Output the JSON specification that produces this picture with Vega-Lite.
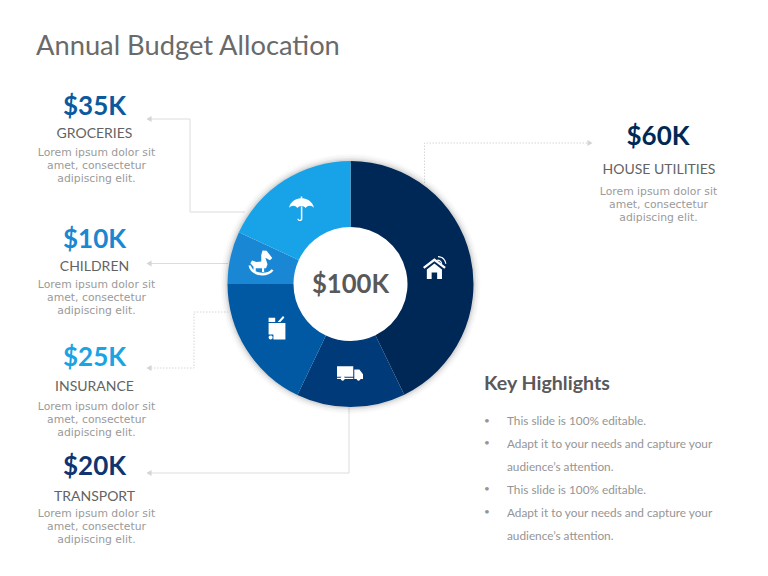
{
"$schema":"https://vega.github.io/schema/vega-lite/v6.json",
"width":768,"height":576,"padding":0,"autosize":{"type":"none"},"background":"#ffffff",
"config":{"view":{"stroke":null}},
"title":{"text":"Annual Budget Allocation","anchor":"start","frame":"group","dx":36,"dy":64,"font":"Lato","fontSize":27.3,"fontWeight":"normal","color":"#6a6a6a"},
"datasets":{
"center":[{"label":"$100K","slideX":350.5,"slideY":285}],
"ring":[{"slideX":350.5,"slideY":284}],
"slices":[
{"category":"HOUSE UTILITIES","rank":1,"share":42.8,"slideX":350.5,"slideY":284},
{"category":"TRANSPORT","rank":2,"share":14.3,"slideX":350.5,"slideY":284},
{"category":"INSURANCE","rank":3,"share":17.9,"slideX":350.5,"slideY":284},
{"category":"CHILDREN","rank":4,"share":6.9,"slideX":350.5,"slideY":284},
{"category":"GROCERIES","rank":5,"share":18.1,"slideX":350.5,"slideY":284}],
"amounts":[
{"amount":"$35K","slideX":94.5,"slideY":107},
{"amount":"$10K","slideX":94.5,"slideY":240},
{"amount":"$25K","slideX":94.5,"slideY":358},
{"amount":"$20K","slideX":94.5,"slideY":467},
{"amount":"$60K","slideX":658,"slideY":137}],
"names":[
{"name":"GROCERIES","slideX":94.5,"slideY":133.5},
{"name":"CHILDREN","slideX":94.5,"slideY":266.5},
{"name":"INSURANCE","slideX":94.5,"slideY":386.5},
{"name":"TRANSPORT","slideX":94.5,"slideY":496.5},
{"name":"HOUSE UTILITIES","slideX":659,"slideY":169.5}],
"blurbs":[
{"blurb":"Lorem ipsum dolor sit\namet, consectetur\nadipiscing elit.","slideX":96.5,"slideY":152.5},
{"blurb":"Lorem ipsum dolor sit\namet, consectetur\nadipiscing elit.","slideX":96.5,"slideY":284.5},
{"blurb":"Lorem ipsum dolor sit\namet, consectetur\nadipiscing elit.","slideX":96.5,"slideY":406.5},
{"blurb":"Lorem ipsum dolor sit\namet, consectetur\nadipiscing elit.","slideX":96.5,"slideY":513.5},
{"blurb":"Lorem ipsum dolor sit\namet, consectetur\nadipiscing elit.","slideX":658.5,"slideY":191.5}],
"leaders":[
{"leader":"GROCERIES","step":1,"slideX":148,"slideY":119},{"leader":"GROCERIES","step":2,"slideX":190,"slideY":119},{"leader":"GROCERIES","step":3,"slideX":190,"slideY":212},{"leader":"GROCERIES","step":4,"slideX":245,"slideY":212},
{"leader":"CHILDREN","step":1,"slideX":148,"slideY":263.5},{"leader":"CHILDREN","step":2,"slideX":228,"slideY":263.5},
{"leader":"INSURANCE","step":1,"slideX":148,"slideY":368},{"leader":"INSURANCE","step":2,"slideX":194,"slideY":368},{"leader":"INSURANCE","step":3,"slideX":194,"slideY":312},{"leader":"INSURANCE","step":4,"slideX":228,"slideY":312},
{"leader":"TRANSPORT","step":1,"slideX":148,"slideY":473},{"leader":"TRANSPORT","step":2,"slideX":349,"slideY":473},{"leader":"TRANSPORT","step":3,"slideX":349,"slideY":407},
{"leader":"HOUSE UTILITIES","step":1,"slideX":424.5,"slideY":183},{"leader":"HOUSE UTILITIES","step":2,"slideX":424.5,"slideY":143},{"leader":"HOUSE UTILITIES","step":3,"slideX":590,"slideY":143}],
"arrows":[
{"direction":"left","slideX":149,"slideY":119},{"direction":"left","slideX":149,"slideY":263.5},{"direction":"left","slideX":149,"slideY":368},{"direction":"left","slideX":149,"slideY":473},{"direction":"right","slideX":590,"slideY":143}],
"icons":[
{"icon":"house","slideX":435,"slideY":267},
{"icon":"truck","slideX":350,"slideY":373.5},
{"icon":"bag","slideX":277,"slideY":328},
{"icon":"horse","slideX":261,"slideY":263},
{"icon":"umbrella","slideX":301.5,"slideY":209}],
"highlights":[
{"line":"This slide is 100% editable.","slideX":507,"slideY":421},
{"line":"Adapt it to your needs and capture your","slideX":507,"slideY":443.5},
{"line":"audience’s attention.","slideX":507,"slideY":466.5},
{"line":"This slide is 100% editable.","slideX":507,"slideY":489.5},
{"line":"Adapt it to your needs and capture your","slideX":507,"slideY":512.5},
{"line":"audience’s attention.","slideX":507,"slideY":536}],
"bullets":[
{"bullet":"•","slideX":484,"slideY":420.5},{"bullet":"•","slideX":484,"slideY":442.5},{"bullet":"•","slideX":484,"slideY":489},{"bullet":"•","slideX":484,"slideY":512}],
"heading":[{"heading":"Key Highlights","slideX":484,"slideY":383.5}]
},
"encoding":{
"x":{"field":"slideX","type":"quantitative","axis":null,"scale":{"domain":[0,768],"nice":false,"zero":false}},
"y":{"field":"slideY","type":"quantitative","axis":null,"scale":{"domain":[0,576],"nice":false,"zero":false,"reverse":true}}
},
"layer":[
{"data":{"name":"leaders"},"transform":[{"filter":"datum.leader!='HOUSE UTILITIES' && datum.leader!='INSURANCE'"}],"mark":{"type":"line","color":"#dcdcdc","strokeWidth":1},"encoding":{"detail":{"field":"leader"},"order":{"field":"step","type":"quantitative"}}},
{"data":{"name":"leaders"},"transform":[{"filter":"datum.leader=='HOUSE UTILITIES' || datum.leader=='INSURANCE'"}],"mark":{"type":"line","color":"#d6d6d6","strokeWidth":1,"strokeDash":[1.5,1.5]},"encoding":{"detail":{"field":"leader"},"order":{"field":"step","type":"quantitative"}}},
{"data":{"name":"arrows"},"mark":{"type":"point","filled":true,"color":"#d4d4d4","size":35,"opacity":1},"encoding":{"shape":{"field":"direction","type":"nominal","legend":null,"scale":{"domain":["left","right"],"range":["triangle-left","triangle-right"]}}}},
{"data":{"name":"ring"},"mark":{"type":"arc","radius":130,"radius2":120,"color":"#000000","opacity":0.02}},
{"data":{"name":"ring"},"mark":{"type":"arc","radius":128,"radius2":120,"color":"#000000","opacity":0.03}},
{"data":{"name":"ring"},"mark":{"type":"arc","radius":126,"radius2":120,"color":"#000000","opacity":0.05}},
{"data":{"name":"ring"},"mark":{"type":"arc","radius":124.5,"radius2":120,"color":"#000000","opacity":0.06}},
{"data":{"name":"slices"},"mark":{"type":"arc","radius":123,"radius2":57},"encoding":{
"theta":{"field":"share","type":"quantitative","stack":true,"scale":{"domain":[0,100]}},
"order":{"field":"rank","type":"quantitative"},
"color":{"field":"category","type":"nominal","legend":null,"scale":{"domain":["HOUSE UTILITIES","TRANSPORT","INSURANCE","CHILDREN","GROCERIES","$60K","$20K","$25K","$10K","$35K"],"range":["#002856","#003a78","#0059a2","#1a87d5","#18a3e8","#002856","#0f3570","#1ba3e3","#1a87d3","#0b5a9e"]}}}},
{"data":{"name":"icons"},"transform":[{"filter":"datum.icon=='house'"}],"mark":{"type":"point","filled":true,"color":"#ffffff","opacity":1,"size":576,"shape":"M-1,0 L-0.05,-0.72 L0.9,0 L0.78,0.14 L-0.05,-0.48 L-0.88,0.14 Z M-0.68,0.2 L-0.05,-0.3 L0.58,0.2 L0.58,1 L0.18,1 L0.18,0.45 L-0.28,0.45 L-0.28,1 L-0.68,1 Z M0.2,-0.62 C0.42,-0.62 0.58,-0.48 0.6,-0.28 L0.5,-0.28 C0.48,-0.44 0.36,-0.52 0.2,-0.52 Z M0.25,-0.92 C0.65,-0.92 0.92,-0.62 0.95,-0.28 L0.85,-0.28 C0.82,-0.58 0.58,-0.82 0.25,-0.82 Z"}},
{"data":{"name":"icons"},"transform":[{"filter":"datum.icon=='truck'"}],"mark":{"type":"point","filled":true,"color":"#ffffff","opacity":1,"size":676,"shape":"M-1,-0.55 L0.25,-0.55 L0.25,0.25 L-1,0.25 Z M0.33,-0.3 L0.72,-0.3 L1,0.05 L1,0.42 L0.33,0.42 Z M-1,0.32 L0.25,0.32 L0.25,0.42 L-1,0.42 Z M-0.72,0.35 C-0.72,0.18 -0.4,0.18 -0.4,0.35 C-0.4,0.62 -0.72,0.62 -0.72,0.35 Z M0.5,0.35 C0.5,0.18 0.82,0.18 0.82,0.35 C0.82,0.62 0.5,0.62 0.5,0.35 Z"}},
{"data":{"name":"icons"},"transform":[{"filter":"datum.icon=='bag'"}],"mark":{"type":"point","filled":true,"color":"#ffffff","opacity":1,"size":576,"shape":"M-0.7,-0.42 L0.7,-0.42 L0.7,0.95 L-0.3,0.95 L-0.3,0.55 L-0.7,0.55 Z M-0.7,0.8 C-0.7,0.58 -0.36,0.58 -0.36,0.8 C-0.36,1.02 -0.7,1.02 -0.7,0.8 Z M-0.7,-0.85 L-0.15,-0.85 L-0.15,-0.5 L-0.7,-0.5 Z M0.05,-0.5 L0.5,-1 L0.62,-0.88 L0.28,-0.5 Z"}},
{"data":{"name":"icons"},"transform":[{"filter":"datum.icon=='horse'"}],"mark":{"type":"point","filled":true,"color":"#ffffff","opacity":1,"size":625,"shape":"M0.12,-1 L0.45,-0.98 L0.9,-0.4 L0.72,-0.22 L0.35,-0.42 L0.52,0.1 L0.4,0.42 L0.25,0.42 L0.25,0.72 L0.08,0.72 L0.08,0.42 L-0.42,0.42 L-0.42,0.68 L-0.6,0.68 L-0.6,0.3 L-0.85,0.02 L-0.72,-0.2 L-0.35,-0.08 L0.02,-0.12 L0.02,-0.65 Z M-1,0.2 L-0.82,0.2 C-0.7,0.55 -0.35,0.78 0.12,0.78 C0.45,0.78 0.7,0.7 0.85,0.5 L1,0.6 C0.8,0.88 0.45,1 0.12,1 C-0.45,1 -0.9,0.7 -1,0.2 Z"}},
{"data":{"name":"icons"},"transform":[{"filter":"datum.icon=='umbrella'"}],"mark":{"type":"point","filled":true,"color":"#ffffff","opacity":1,"size":625,"shape":"M-1,-0.1 C-0.9,-0.6 -0.45,-0.85 -0.06,-0.87 L-0.06,-1 L0.06,-1 L0.06,-0.87 C0.45,-0.85 0.9,-0.6 1,-0.1 C0.8,-0.32 0.5,-0.32 0.33,-0.08 C0.2,-0.3 -0.2,-0.3 -0.33,-0.08 C-0.5,-0.32 -0.8,-0.32 -1,-0.1 Z M-0.05,-0.2 L0.07,-0.2 L0.07,0.8 C0.07,1.02 -0.33,1.02 -0.33,0.78 L-0.23,0.78 C-0.23,0.9 -0.05,0.9 -0.05,0.78 Z"}},
{"data":{"name":"center"},"mark":{"type":"text","font":"Lato","fontSize":25.7,"fontWeight":"bold","color":"#595959","baseline":"middle","align":"center"},"encoding":{"text":{"field":"label"}}},
{"data":{"name":"amounts"},"mark":{"type":"text","font":"Lato","fontSize":26,"fontWeight":"bold","baseline":"middle","align":"center"},"encoding":{"text":{"field":"amount"},"color":{"field":"amount","type":"nominal","legend":null}}},
{"data":{"name":"names"},"mark":{"type":"text","font":"Lato","fontSize":14,"color":"#636363","baseline":"middle","align":"center"},"encoding":{"text":{"field":"name"}}},
{"data":{"name":"blurbs"},"mark":{"type":"text","font":"DejaVu Sans","fontSize":10.8,"color":"#9a9a9a","baseline":"middle","align":"center","lineBreak":"\n","lineHeight":13},"encoding":{"text":{"field":"blurb"}}},
{"data":{"name":"heading"},"mark":{"type":"text","font":"Lato","fontSize":19.6,"fontWeight":"bold","color":"#595959","baseline":"middle","align":"left"},"encoding":{"text":{"field":"heading"}}},
{"data":{"name":"highlights"},"mark":{"type":"text","font":"Lato","fontSize":11.8,"color":"#959595","baseline":"middle","align":"left"},"encoding":{"text":{"field":"line"}}},
{"data":{"name":"bullets"},"mark":{"type":"text","font":"Lato","fontSize":10,"color":"#959595","baseline":"middle","align":"left"},"encoding":{"text":{"field":"bullet"}}}
]
}
